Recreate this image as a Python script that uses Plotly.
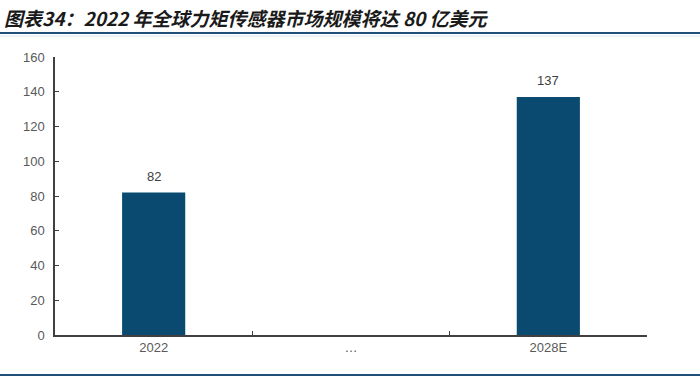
import plotly.graph_objects as go

categories = ["2022", "…", "2028E"]
values = [82, None, 137]
labels = ["82", "", "137"]
y_ticks = [0, 20, 40, 60, 80, 100, 120, 140, 160]
title_text = "图表34：2022 年全球力矩传感器市场规模将达 80 亿美元"

bar_color = "#0B4A70"
grey = "#595959"

fig = go.Figure()
fig.add_trace(go.Bar(
    x=categories, y=values,
    marker=dict(color=bar_color, line=dict(width=0)),
    width=0.32,
))

annotations = []
for i, (v, t) in enumerate(zip(values, labels)):
    if v is not None and t:
        annotations.append(dict(
            x=i, y=v, text=t, showarrow=False, yanchor="bottom", yshift=7,
            font=dict(family="Liberation Sans, Arial", size=13, color="#404040"),
        ))

annotations.append(dict(
    text="<b><i>" + title_text + "</i></b>", xref="paper", yref="paper",
    x=-53/592, y=(382-47-17)/278, xanchor="left", yanchor="middle",
    showarrow=False,
    font=dict(family="Noto Sans CJK SC", size=19, color="#1a1a1a"),
))

fig.update_layout(
    width=700, height=382,
    margin=dict(l=55, r=53, t=57, b=47),
    paper_bgcolor="white", plot_bgcolor="white",
    showlegend=False,
    font=dict(family="Liberation Sans, Arial", size=13, color=grey),
    xaxis=dict(
        type="category", categoryarray=categories, range=[-0.5, 2.5],
        showline=True, linecolor="#404040", linewidth=1.5,
        ticks="inside", ticklen=4, tickcolor="#404040", tickson="boundaries",
        showgrid=False, tickfont=dict(size=13, color=grey), tickangle=0,
    ),
    yaxis=dict(
        range=[0, 160], tickvals=y_ticks, showline=True, linecolor="#404040",
        linewidth=1.5, ticks="inside", ticklen=4, tickcolor="#404040",
        showgrid=False, zeroline=False, tickfont=dict(size=13, color=grey),
        ticklabelstandoff=6,
    ),
    shapes=[
        dict(type="line", xref="paper", yref="paper", x0=-55/592, x1=1+53/592,
             y0=(382-47-33)/278, y1=(382-47-33)/278,
             line=dict(color="#1F4E79", width=2)),
        dict(type="line", xref="paper", yref="paper", x0=-55/592, x1=1+53/592,
             y0=(382-47-36)/278, y1=(382-47-36)/278,
             line=dict(color="#D6E6F2", width=1)),
        dict(type="line", xref="paper", yref="paper", x0=-55/592, x1=1+53/592,
             y0=-(375-335)/278, y1=-(375-335)/278,
             line=dict(color="#1F4E79", width=2)),
    ],
    annotations=annotations,
)

fig.write_html("out.html")
